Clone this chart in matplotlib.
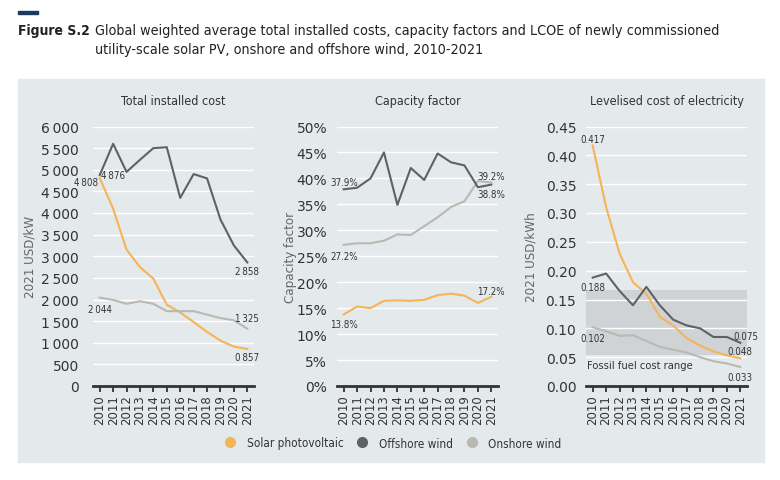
import matplotlib
matplotlib.use("Agg")
import matplotlib.pyplot as plt
from matplotlib.patches import Rectangle
from matplotlib.lines import Line2D
from matplotlib.ticker import FuncFormatter

plt.rcParams['font.family'] = ['DejaVu Sans']

years = list(range(2010, 2022))

# Total installed cost (2021 USD/kW)
cost_solar = [4808, 4100, 3150, 2750, 2480, 1880, 1700, 1480, 1250, 1050, 910, 857]
cost_offshore = [4876, 5600, 4950, 5230, 5500, 5520, 4350, 4900, 4800, 3850, 3250, 2858]
cost_onshore = [2044, 1990, 1900, 1960, 1900, 1730, 1730, 1730, 1650, 1570, 1520, 1325]

# Capacity factor (%)
cf_solar = [13.8, 15.3, 15.0, 16.4, 16.5, 16.4, 16.6, 17.5, 17.8, 17.4, 16.0, 17.2]
cf_offshore = [37.9, 38.2, 40.0, 45.0, 34.9, 42.0, 39.7, 44.8, 43.1, 42.5, 38.3, 38.8]
cf_onshore = [27.2, 27.5, 27.5, 28.0, 29.2, 29.1, 30.8, 32.5, 34.5, 35.6, 39.5, 39.2]

# LCOE (2021 USD/kWh)
lcoe_solar = [0.417, 0.31, 0.23, 0.18, 0.16, 0.12, 0.105, 0.083, 0.07, 0.06, 0.053, 0.048]
lcoe_offshore = [0.188, 0.195, 0.165, 0.14, 0.172, 0.14, 0.115, 0.105, 0.1, 0.085, 0.085, 0.075]
lcoe_onshore = [0.102, 0.095, 0.087, 0.088, 0.078, 0.068, 0.063, 0.058, 0.05, 0.043, 0.039, 0.033]
fossil_low, fossil_high = 0.054, 0.167

c_solar = '#f5b456'
c_off = '#5f6265'
c_on = '#b9b9b0'
txt = '#333333'
cond = dict(fontstretch='condensed')

fig = plt.figure(figsize=(7.8, 4.81), dpi=100)
fig.patch.set_facecolor('white')

# header
fig.patches.append(Rectangle((18 / 780, 1 - 15 / 481), 20 / 780, 3 / 481,
                             transform=fig.transFigure, color='#1c3a5e'))
fig.text(18 / 780, 1 - 31 / 481, 'Figure S.2', fontsize=10, fontweight='bold',
         color='#222222', va='center', **cond)
fig.text(95 / 780, 1 - 31 / 481,
         'Global weighted average total installed costs, capacity factors and LCOE of newly commissioned',
         fontsize=10.3, color='#222222', va='center', **cond)
fig.text(95 / 780, 1 - 50 / 481, 'utility-scale solar PV, onshore and offshore wind, 2010-2021',
         fontsize=10.3, color='#222222', va='center', **cond)

# grey panel
fig.patches.append(Rectangle((18 / 780, 1 - 463 / 481), 746 / 780, 383 / 481,
                             transform=fig.transFigure, color='#e4e9ec', zorder=-5))

bottom = 1 - 387 / 481
height = 259.5 / 481
width = 161 / 780
lefts = [93 / 780, 337 / 780, 586 / 780]


def style(ax, title, ylabel, ymax, step, fmt, ypad=7):
    ax.set_facecolor('none')
    ax.set_xlim(2009.5, 2021.5)
    ax.set_ylim(0, ymax)
    ax.set_yticks([i * step for i in range(int(round(ymax / step)) + 1)])
    ax.yaxis.set_major_formatter(FuncFormatter(fmt))
    ax.set_xticks(years)
    ax.set_xticklabels([str(y) for y in years], rotation=90, fontsize=8.5, color=txt)
    for s in ['top', 'right', 'left']:
        ax.spines[s].set_visible(False)
    ax.spines['bottom'].set_color(txt)
    ax.spines['bottom'].set_linewidth(2)
    ax.tick_params(axis='x', direction='out', length=4, width=1.3, color=txt, pad=2)
    ax.tick_params(axis='y', length=0, labelsize=10, labelcolor=txt, pad=ypad)
    ax.grid(axis='y', color='white', linewidth=1)
    ax.set_axisbelow(True)
    ax.set_title(title, fontsize=9, color=txt, pad=16, **cond)
    ax.set_ylabel(ylabel, fontsize=9.5, color='#666666', **cond)


def note(ax, x, y, s, dx, dy, ha='center'):
    ax.annotate(s, (x, y), xytext=(dx, dy), textcoords='offset points',
                ha=ha, va='center', fontsize=7, color=txt, **cond)


# panel 1
ax1 = fig.add_axes([lefts[0], bottom, width, height])
style(ax1, 'Total installed cost', '2021 USD/kW', 6000, 500,
      lambda v, p: '{:,.0f}'.format(v).replace(',', '\u2009'), ypad=10)
ax1.plot(years, cost_solar, color=c_solar, lw=1.5)
ax1.plot(years, cost_onshore, color=c_on, lw=1.5)
ax1.plot(years, cost_offshore, color=c_off, lw=1.5)
ax1.yaxis.set_label_coords(-0.35, 0.5)
note(ax1, years[0], cost_solar[0], '4\u2009808', -1, -3, ha='right')
note(ax1, years[0], cost_offshore[0], '4\u2009876', 1, 0, ha='left')
note(ax1, years[-1], cost_offshore[-1], '2\u2009858', 0, -6)
note(ax1, years[0], cost_onshore[0], '2\u2009044', 0, -8)
note(ax1, years[-1], cost_onshore[-1], '1\u2009325', 0, 8)
note(ax1, years[-1], cost_solar[-1], '0\u2009857', 0, -6)

# panel 2
ax2 = fig.add_axes([lefts[1], bottom, width, height])
style(ax2, 'Capacity factor', 'Capacity factor', 50, 5,
      lambda v, p: '{:.0f}%'.format(v))
ax2.plot(years, cf_solar, color=c_solar, lw=1.5)
ax2.plot(years, cf_onshore, color=c_on, lw=1.5)
ax2.plot(years, cf_offshore, color=c_off, lw=1.5)
ax2.yaxis.set_label_coords(-0.25, 0.5)
note(ax2, years[0], cf_offshore[0], '37.9%', 0, 5)
note(ax2, years[0], cf_onshore[0], '27.2%', 0, -8)
note(ax2, years[-1], cf_onshore[-1], '39.2%', 0, 5)
note(ax2, years[-1], cf_offshore[-1], '38.8%', 0, -7)
note(ax2, years[0], cf_solar[0], '13.8%', 0, -7)
note(ax2, years[-1], cf_solar[-1], '17.2%', 0, 4)

# panel 3
ax3 = fig.add_axes([lefts[2], bottom, width, height])
style(ax3, 'Levelised cost of electricity', '2021 USD/kWh', 0.45, 0.05,
      lambda v, p: '{:.2f}'.format(v))
ax3.axhspan(fossil_low, fossil_high, color='#cfd3d6', zorder=0.5, lw=0)
ax3.plot(years, lcoe_solar, color=c_solar, lw=1.5)
ax3.plot(years, lcoe_onshore, color=c_on, lw=1.5)
ax3.plot(years, lcoe_offshore, color=c_off, lw=1.5)
ax3.yaxis.set_label_coords(-0.3, 0.5)
ax3.text(2009.6, 0.036, 'Fossil fuel cost range', fontsize=8, color=txt, va='center', **cond)
note(ax3, years[0], lcoe_solar[0], '0.417', 0, 5)
note(ax3, years[0], lcoe_offshore[0], '0.188', 0, -7)
note(ax3, years[0], lcoe_onshore[0], '0.102', 0, -8)
note(ax3, years[-1], lcoe_offshore[-1], '0.075', 4, 5)
note(ax3, years[-1], lcoe_solar[-1], '0.048', 0, 5)
note(ax3, years[-1], lcoe_onshore[-1], '0.033', 0, -7)

# legend
handles = [Line2D([], [], marker='o', ls='', color=c, markersize=7)
           for c in [c_solar, c_off, c_on]]
fig.legend(handles, ['Solar photovoltaic', 'Offshore wind', 'Onshore wind'],
           loc='center', bbox_to_anchor=(0.5, 1 - 444 / 481), ncol=3, frameon=False,
           prop=dict(size=8.5, stretch='condensed'), handletextpad=0.4,
           columnspacing=0.6, labelcolor=txt)

fig.savefig('out.png', dpi=100)
